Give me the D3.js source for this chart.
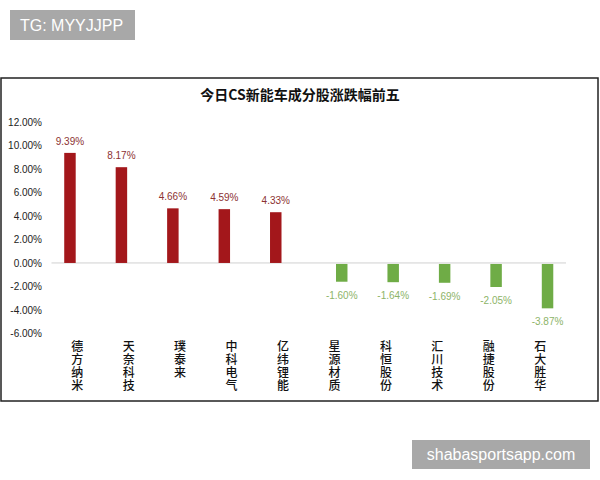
<!DOCTYPE html>
<html>
<head>
<meta charset="utf-8">
<script src="https://cdn.jsdelivr.net/npm/d3@7"></script>
<style>
  body { margin: 0; background: #fff; }
  svg { display: block; }
</style>
</head>
<body>
<div id="chart"></div>
<script>
var categories = ["德方纳米", "天奈科技", "璞泰来", "中科电气", "亿纬锂能",
                  "星源材质", "科恒股份", "汇川技术", "融捷股份", "石大胜华"];
// two series, like the Excel clustered chart: gainers and losers
var gainers = [9.39, 8.17, 4.66, 4.59, 4.33, null, null, null, null, null];
var losers = [null, null, null, null, null, -1.60, -1.64, -1.69, -2.05, -3.87];
var yTicks = [12, 10, 8, 6, 4, 2, 0, -2, -4, -6];
var title = "今日CS新能车成分股涨跌幅前五";

var w = 600, h = 480;
var svg = d3.select("#chart").append("svg")
    .attr("width", w)
    .attr("height", h);

// watermarks
svg.append("rect").attr("x", 10).attr("y", 10).attr("width", 125).attr("height", 30).attr("fill", "#a8a8a8");
svg.append("text").attr("x", 20).attr("y", 31)
    .attr("font-family", "Liberation Sans, Arial, sans-serif").attr("font-size", 16)
    .attr("fill", "#fff").text("TG: MYYJJPP");
svg.append("rect").attr("x", 412).attr("y", 440).attr("width", 178).attr("height", 29).attr("fill", "#a8a8a8");
svg.append("text").attr("x", 501).attr("y", 460).attr("text-anchor", "middle")
    .attr("font-family", "Liberation Sans, Arial, sans-serif").attr("font-size", 16)
    .attr("fill", "#fff").text("shabasportsapp.com");

// chart frame
svg.append("rect").attr("x", 1).attr("y", 78).attr("width", 597).attr("height", 323)
    .attr("fill", "#fff").attr("stroke", "#222").attr("stroke-width", 1.5);

svg.append("text").attr("x", 300).attr("y", 100).attr("text-anchor", "middle")
    .attr("font-family", "Noto Sans CJK SC, sans-serif").attr("font-size", 14)
    .attr("font-weight", "bold").attr("fill", "#111").text(title);

var x = d3.scaleBand().domain(categories).range([51.5, 566]);
var x1 = d3.scaleBand().domain(["gain", "loss"]).range([-13, 13]).paddingInner(0.21);
var y = d3.scaleLinear().domain([-6, 12]).range([333.3, 122.3]);

// y labels (no axis line)
var yAxis = svg.append("g").attr("transform", "translate(42,0)")
    .call(d3.axisLeft(y).tickValues(yTicks).tickSize(0).tickPadding(0)
        .tickFormat(d => d.toFixed(2) + "%"));
yAxis.select(".domain").remove();
yAxis.selectAll("text")
    .attr("font-family", "Liberation Sans, Arial, sans-serif")
    .attr("font-size", 10)
    .attr("fill", "#222");

var rows = categories.map((c, i) => ({ cat: c, gain: gainers[i], loss: losers[i] }));

// zero line
svg.append("line").attr("x1", x.range()[0]).attr("x2", x.range()[1])
    .attr("y1", y(0)).attr("y2", y(0))
    .attr("stroke", "#d0d0d0").attr("stroke-width", 1);

var redRows = rows.filter(d => d.gain != null);
var greenRows = rows.filter(d => d.loss != null);

svg.selectAll(".bar-g").data(redRows).enter().append("rect")
    .attr("x", d => x(d.cat) + x.bandwidth() / 2 + x1("gain"))
    .attr("y", d => y(d.gain))
    .attr("width", x1.bandwidth())
    .attr("height", d => y(0) - y(d.gain))
    .attr("fill", "#a3171b");

svg.selectAll(".bar-l").data(greenRows).enter().append("rect")
    .attr("x", d => x(d.cat) + x.bandwidth() / 2 + x1("loss"))
    .attr("y", y(0) + 1)
    .attr("width", x1.bandwidth())
    .attr("height", d => y(d.loss) - y(0) - 1)
    .attr("fill", "#6fac46");

svg.selectAll(".lab-g").data(redRows).enter().append("text")
    .attr("x", d => x(d.cat) + x.bandwidth() / 2 + x1("gain") + x1.bandwidth() / 2)
    .attr("y", d => y(d.gain) - 8)
    .attr("text-anchor", "middle")
    .attr("font-family", "Liberation Sans, Arial, sans-serif").attr("font-size", 10)
    .attr("fill", "#8c3232")
    .text(d => d.gain.toFixed(2) + "%");

svg.selectAll(".lab-l").data(greenRows).enter().append("text")
    .attr("x", d => x(d.cat) + x.bandwidth() / 2 + x1("loss") + x1.bandwidth() / 2)
    .attr("y", d => y(d.loss) + 17)
    .attr("text-anchor", "middle")
    .attr("font-family", "Liberation Sans, Arial, sans-serif").attr("font-size", 10)
    .attr("fill", "#8db468")
    .text(d => d.loss.toFixed(2) + "%");

// vertical category labels
var catG = svg.selectAll(".cat").data(categories).enter().append("text")
    .attr("text-anchor", "middle")
    .attr("font-family", "Noto Sans CJK SC, sans-serif").attr("font-size", 12)
    .attr("font-weight", 500)
    .attr("fill", "#111");
catG.selectAll("tspan").data(d => d.split("").map(ch => ({ ch: ch, cat: d }))).enter().append("tspan")
    .attr("x", d => x(d.cat) + x.bandwidth() / 2)
    .attr("y", (d, i) => 351 + i * 13)
    .text(d => d.ch);
</script>
</body>
</html>
